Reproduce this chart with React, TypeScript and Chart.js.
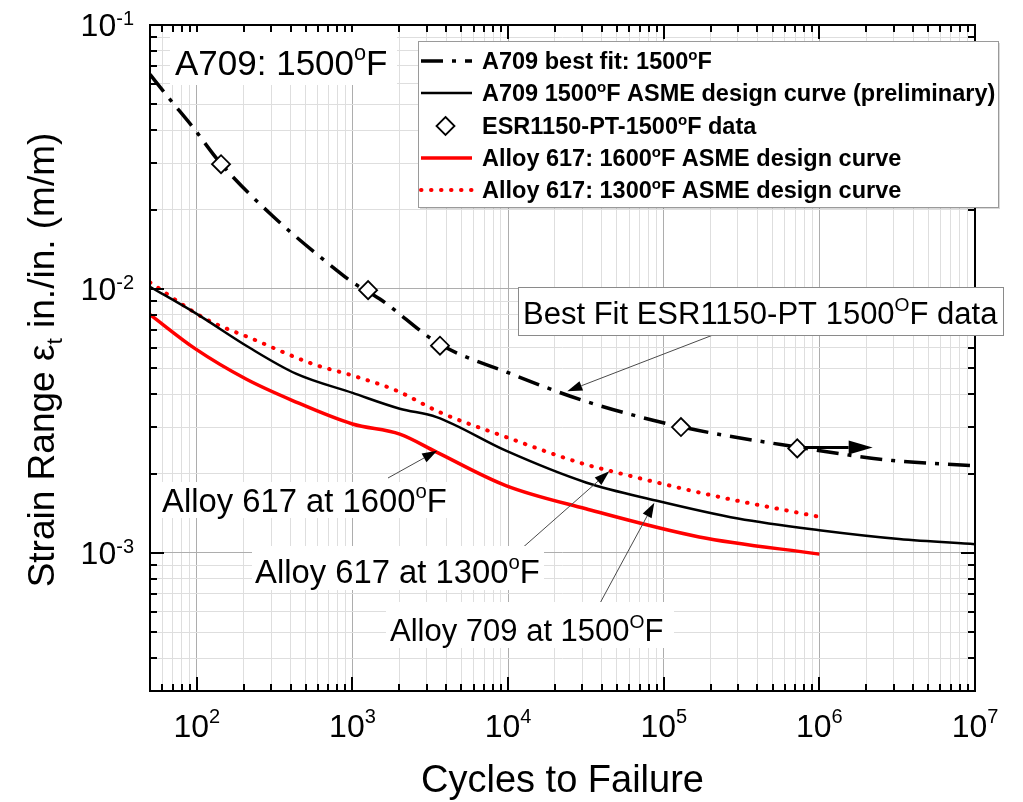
import React, { useEffect, useRef } from 'react';
import { Chart, registerables } from 'chart.js';

Chart.register(...registerables);

// ---------------- Data ----------------
const bestFitCycles = [50, 65, 94, 141, 307, 823, 1000, 1500, 3650, 10000, 30800, 128000, 713000, 2950000, 10000000];
const bestFitStrain = [0.065, 0.0535, 0.0411, 0.0301, 0.0189, 0.01156, 0.0106, 0.00916, 0.00617, 0.00482, 0.00377, 0.00301, 0.00252, 0.00224, 0.00214];

const designCycles = [50, 98, 217, 433, 1000, 2014, 3470, 9670, 31600, 89000, 300000, 1000000, 3250000, 10000000];
const designStrain = [0.0102, 0.0081, 0.006, 0.00478, 0.00404, 0.00352, 0.00327, 0.00244, 0.00185, 0.00158, 0.00135, 0.00122, 0.00113, 0.00108];

const testCycles = [143, 1260, 3650, 129000, 721000];
const testStrain = [0.0297, 0.0099, 0.0061, 0.003, 0.00249];

const alloy617at1600Cycles = [50, 98, 207, 412, 1000, 2014, 3470, 9670, 31600, 169000, 1000000];
const alloy617at1600Strain = [0.008, 0.00593, 0.00456, 0.00378, 0.00308, 0.00282, 0.00241, 0.0018, 0.00147, 0.00115, 0.00099];

const alloy617at1300Cycles = [50, 114, 228, 556, 1000, 1920, 3650, 9670, 30100, 44700, 207000, 1000000];
const alloy617at1300Strain = [0.0106, 0.0077, 0.00647, 0.0052, 0.0047, 0.00412, 0.00341, 0.00275, 0.00218, 0.00205, 0.00165, 0.00137];

const seriesLabels = [
  'A709 best fit: 1500°F',
  'A709 1500°F ASME design curve (preliminary)',
  'ESR1150-PT-1500°F data',
  'Alloy 617: 1600°F ASME design curve',
  'Alloy 617: 1300°F ASME design curve',
];

const xRange = [50, 1e7];
const yRange = [3e-4, 0.1];
const xTickExponents = [2, 3, 4, 5, 6, 7];
const yTickExponents = [-3, -2, -1];
const xTitle = 'Cycles to Failure';

// ---------------- Helpers ----------------
const FONT = '"Liberation Sans", Arial, Helvetica, sans-serif';

type Part = { t: string; k?: 'sup' | 'sub' };

function logTicks(min: number, max: number): number[] {
  const out: number[] = [];
  const e0 = Math.floor(Math.log10(min));
  const e1 = Math.ceil(Math.log10(max));
  for (let e = e0; e <= e1; e++) {
    for (let m = 1; m <= 9; m++) {
      const v = parseFloat((m * Math.pow(10, e)).toPrecision(6));
      if (v >= min * (1 - 1e-9) && v <= max * (1 + 1e-9)) out.push(v);
    }
  }
  return out;
}

const isMajor = (v: number) => Math.abs(Math.log10(v) - Math.round(Math.log10(v))) < 1e-6;

const zip = (xs: number[], ys: number[]) => xs.map((x, i) => ({ x, y: ys[i] }));

function degParts(s: string): Part[] {
  const pieces = s.split('°');
  const out: Part[] = [];
  pieces.forEach((p, i) => {
    if (i > 0) out.push({ t: 'o', k: 'sup' });
    if (p) out.push({ t: p });
  });
  return out;
}

function drawRich(
  ctx: CanvasRenderingContext2D,
  parts: Part[],
  x: number,
  y: number,
  size: number,
  opts: { bold?: boolean; align?: 'left' | 'center' | 'right'; supSize?: number; supRise?: number; color?: string } = {}
) {
  const b = opts.bold ? 'bold ' : '';
  const small = opts.supSize ?? size * 0.62;
  const rise = opts.supRise ?? size * 0.42;
  let w = 0;
  const widths = parts.map((p) => {
    ctx.font = `${b}${p.k ? small : size}px ${FONT}`;
    const ww = ctx.measureText(p.t).width;
    w += ww;
    return ww;
  });
  let cx = opts.align === 'center' ? x - w / 2 : opts.align === 'right' ? x - w : x;
  ctx.textAlign = 'left';
  ctx.textBaseline = 'alphabetic';
  ctx.fillStyle = opts.color ?? '#000';
  parts.forEach((p, i) => {
    ctx.font = `${b}${p.k ? small : size}px ${FONT}`;
    const dy = p.k === 'sup' ? -rise : p.k === 'sub' ? size * 0.22 : 0;
    ctx.fillText(p.t, cx, y + dy);
    cx += widths[i];
  });
  return w;
}

function drawArrow(
  ctx: CanvasRenderingContext2D,
  x1: number, y1: number, x2: number, y2: number,
  lineColor: string, lineWidth: number, headLen: number, headHalf: number
) {
  const ang = Math.atan2(y2 - y1, x2 - x1);
  const bx = x2 - Math.cos(ang) * headLen;
  const by = y2 - Math.sin(ang) * headLen;
  ctx.save();
  ctx.strokeStyle = lineColor;
  ctx.lineWidth = lineWidth;
  ctx.beginPath();
  ctx.moveTo(x1, y1);
  ctx.lineTo(bx, by);
  ctx.stroke();
  ctx.fillStyle = '#000';
  ctx.beginPath();
  ctx.moveTo(x2, y2);
  ctx.lineTo(bx + Math.sin(ang) * headHalf, by - Math.cos(ang) * headHalf);
  ctx.lineTo(bx - Math.sin(ang) * headHalf, by + Math.cos(ang) * headHalf);
  ctx.closePath();
  ctx.fill();
  ctx.restore();
}

// Text annotations (canvas pixel layout)
const textNotes: { parts: Part[]; x: number; y: number; size: number; box: [number, number, number, number]; border?: boolean }[] = [
  { parts: [{ t: 'A709: 1500' }, { t: 'o', k: 'sup' }, { t: 'F' }], x: 175, y: 75, size: 35, box: [170, 32, 227, 53] },
  { parts: [{ t: 'Best Fit ESR1150-PT 1500' }, { t: 'O', k: 'sup' }, { t: 'F data' }], x: 523, y: 324, size: 31, box: [518, 287, 485, 48], border: true },
  { parts: [{ t: 'Alloy 617 at 1600' }, { t: 'o', k: 'sup' }, { t: 'F' }], x: 162, y: 512, size: 32.8, box: [158, 482, 292, 36] },
  { parts: [{ t: 'Alloy 617 at 1300' }, { t: 'o', k: 'sup' }, { t: 'F' }], x: 255, y: 583, size: 32.8, box: [252, 546, 292, 44] },
  { parts: [{ t: 'Alloy 709 at 1500' }, { t: 'O', k: 'sup' }, { t: 'F' }], x: 390, y: 641, size: 31, box: [386, 602, 288, 46] },
];

// Leader arrows: tail in canvas pixels, tip at a data point on the curve
const arrowNotes: { from: [number, number]; to: [number, number] }[] = [
  { from: [713, 335], to: [24000, 0.0041] },
  { from: [388, 478], to: [3500, 0.00244] },
  { from: [520, 550], to: [44700, 0.00204] },
  { from: [599, 605], to: [87000, 0.00155] },
];
// Run-out arrow (data coordinates)
const runoutArrow = { from: [790000, 0.00251], to: [2200000, 0.00251] };

const legendBox = { x: 418, y: 41, w: 580, h: 166, rowY: [61, 93, 126, 158, 190], sampleX: [421, 472], textX: 482, size: 23.5 };

const framePlugin = {
  id: 'frameAndNotes',
  afterDraw(chart: any) {
    const ctx: CanvasRenderingContext2D = chart.ctx;
    const { left, right, top, bottom } = chart.chartArea;
    const xs = chart.scales.x;
    const ys = chart.scales.y;
    ctx.save();

    // frame
    ctx.strokeStyle = '#000';
    ctx.lineWidth = 2;
    ctx.strokeRect(left, top, right - left, bottom - top);

    // inward ticks on all four sides
    ctx.strokeStyle = '#000';
    ctx.lineWidth = 2;
    ctx.beginPath();
    xs.ticks.forEach((t: any) => {
      const px = Math.round(xs.getPixelForValue(t.value));
      const len = isMajor(t.value) ? 14 : 7;
      ctx.moveTo(px, bottom);
      ctx.lineTo(px, bottom - len);
      ctx.moveTo(px, top);
      ctx.lineTo(px, top + len);
    });
    ys.ticks.forEach((t: any) => {
      const py = Math.round(ys.getPixelForValue(t.value));
      const len = isMajor(t.value) ? 14 : 7;
      ctx.moveTo(left, py);
      ctx.lineTo(left + len, py);
      ctx.moveTo(right, py);
      ctx.lineTo(right - len, py);
    });
    ctx.stroke();

    // tick labels
    xTickExponents.forEach((e) => {
      const px = xs.getPixelForValue(Math.pow(10, e));
      drawRich(ctx, [{ t: '10' }, { t: String(e), k: 'sup' }], px, 737, 32, { align: 'center', supSize: 20, supRise: 14 });
    });
    yTickExponents.forEach((e) => {
      const py = ys.getPixelForValue(Math.pow(10, e));
      drawRich(ctx, [{ t: '10' }, { t: String(e), k: 'sup' }], 134, py + 11, 32, { align: 'right', supSize: 20, supRise: 11 });
    });

    // axis titles
    drawRich(ctx, [{ t: xTitle }], (left + right) / 2, 792, 38, { align: 'center' });
    ctx.save();
    ctx.translate(54, 360);
    ctx.rotate(-Math.PI / 2);
    drawRich(ctx, [{ t: 'Strain Range ε' }, { t: 't', k: 'sub' }, { t: ' in./in. (m/m)' }], 0, 0, 37, { align: 'center' });
    ctx.restore();

    // leader arrows
    arrowNotes.forEach((a) => {
      const tx = xs.getPixelForValue(a.to[0]);
      const ty = ys.getPixelForValue(a.to[1]);
      drawArrow(ctx, a.from[0], a.from[1], tx, ty, '#4a4a4a', 1, 15, 5);
    });
    {
      const x1 = xs.getPixelForValue(runoutArrow.from[0]);
      const y1 = ys.getPixelForValue(runoutArrow.from[1]);
      const x2 = xs.getPixelForValue(runoutArrow.to[0]);
      const y2 = ys.getPixelForValue(runoutArrow.to[1]);
      drawArrow(ctx, x1, y1, x2, y2, '#000', 3, 24, 7);
    }

    // text notes
    textNotes.forEach((n) => {
      const [bx, by, bw, bh] = n.box;
      ctx.fillStyle = '#fff';
      ctx.fillRect(bx, by, bw, bh);
      if (n.border) {
        ctx.strokeStyle = '#8a8a8a';
        ctx.lineWidth = 1;
        ctx.strokeRect(bx + 0.5, by + 0.5, bw, bh);
      }
      drawRich(ctx, n.parts, n.x, n.y, n.size);
    });

    // legend
    const L = legendBox;
    ctx.fillStyle = 'rgba(0,0,0,0.15)';
    ctx.fillRect(L.x + 2, L.y + 2, L.w, L.h);
    ctx.fillStyle = '#fff';
    ctx.fillRect(L.x, L.y, L.w, L.h);
    ctx.strokeStyle = '#9a9a9a';
    ctx.lineWidth = 1;
    ctx.strokeRect(L.x + 0.5, L.y + 0.5, L.w, L.h);
    chart.data.datasets.forEach((ds: any, i: number) => {
      const y = L.rowY[i];
      const [sx0, sx1] = L.sampleX;
      if (ds.showLine === false) {
        const cx = (sx0 + sx1) / 2 - 1;
        const r = ds.pointRadius;
        ctx.beginPath();
        ctx.moveTo(cx, y - r);
        ctx.lineTo(cx + r, y);
        ctx.lineTo(cx, y + r);
        ctx.lineTo(cx - r, y);
        ctx.closePath();
        ctx.fillStyle = '#fff';
        ctx.fill();
        ctx.strokeStyle = ds.pointBorderColor;
        ctx.lineWidth = ds.pointBorderWidth;
        ctx.stroke();
      } else {
        ctx.save();
        ctx.strokeStyle = ds.borderColor;
        ctx.lineWidth = ds.borderWidth;
        ctx.lineCap = ds.borderCapStyle || 'butt';
        ctx.setLineDash(ds.borderDash || []);
        ctx.beginPath();
        ctx.moveTo(sx0, y);
        ctx.lineTo(sx1, y);
        ctx.stroke();
        ctx.restore();
      }
      drawRich(ctx, degParts(ds.label), L.textX, y + 8, L.size, { bold: true, supSize: 15, supRise: 9 });
    });

    ctx.restore();
  },
};

const gridColor = (c: any) => (c.tick && isMajor(c.tick.value) ? '#adadad' : '#dedede');

export default function App() {
  const ref = useRef<HTMLCanvasElement | null>(null);

  useEffect(() => {
    if (!ref.current) return;
    const xTicks = logTicks(xRange[0], xRange[1]);
    const yTicks = logTicks(yRange[0], yRange[1]);
    const chart = new Chart(ref.current, {
      type: 'line',
      data: {
        datasets: [
          {
            label: seriesLabels[0],
            data: zip(bestFitCycles, bestFitStrain),
            borderColor: '#000',
            borderWidth: 3.5,
            borderDash: [22, 9, 4, 9],
            pointRadius: 0,
            pointHoverRadius: 0,
            cubicInterpolationMode: 'monotone',
            fill: false,
            order: 2,
          },
          {
            label: seriesLabels[1],
            data: zip(designCycles, designStrain),
            borderColor: '#000',
            borderWidth: 2.5,
            pointRadius: 0,
            pointHoverRadius: 0,
            cubicInterpolationMode: 'monotone',
            fill: false,
            order: 1,
          },
          {
            label: seriesLabels[2],
            data: zip(testCycles, testStrain),
            showLine: false,
            pointStyle: 'rectRot',
            pointRadius: 9,
            pointBorderWidth: 1.8,
            pointBackgroundColor: '#fff',
            backgroundColor: '#fff',
            pointBorderColor: '#000',
            borderColor: '#000',
            order: 0,
          },
          {
            label: seriesLabels[3],
            data: zip(alloy617at1600Cycles, alloy617at1600Strain),
            borderColor: '#ff0000',
            borderWidth: 3.5,
            pointRadius: 0,
            pointHoverRadius: 0,
            cubicInterpolationMode: 'monotone',
            fill: false,
            order: 3,
          },
          {
            label: seriesLabels[4],
            data: zip(alloy617at1300Cycles, alloy617at1300Strain),
            borderColor: '#ff0000',
            borderWidth: 4,
            borderDash: [0.5, 9.5],
            borderCapStyle: 'round',
            pointRadius: 0,
            pointHoverRadius: 0,
            cubicInterpolationMode: 'monotone',
            fill: false,
            order: 4,
          },
        ],
      },
      options: {
        animation: false,
        responsive: false,
        devicePixelRatio: 1,
        events: [],
        layout: { padding: { left: 150, top: 25, right: 48, bottom: 111 } },
        plugins: { legend: { display: false }, tooltip: { enabled: false } },
        scales: {
          x: {
            type: 'logarithmic',
            min: xRange[0],
            max: xRange[1],
            afterBuildTicks: (s: any) => {
              s.ticks = xTicks.map((v) => ({ value: v }));
            },
            ticks: { display: false },
            grid: { drawTicks: false, color: gridColor, lineWidth: 1 },
            border: { display: false },
          },
          y: {
            type: 'logarithmic',
            min: yRange[0],
            max: yRange[1],
            afterBuildTicks: (s: any) => {
              s.ticks = yTicks.map((v) => ({ value: v }));
            },
            ticks: { display: false },
            grid: { drawTicks: false, color: gridColor, lineWidth: 1 },
            border: { display: false },
          },
        },
      } as any,
      plugins: [framePlugin],
    } as any);
    return () => chart.destroy();
  }, []);

  return (
    <div style={{ position: 'absolute', left: 0, top: 0, width: 1023, height: 802, background: '#fff' }}>
      <canvas ref={ref} width={1023} height={802} style={{ display: 'block' }} />
    </div>
  );
}
